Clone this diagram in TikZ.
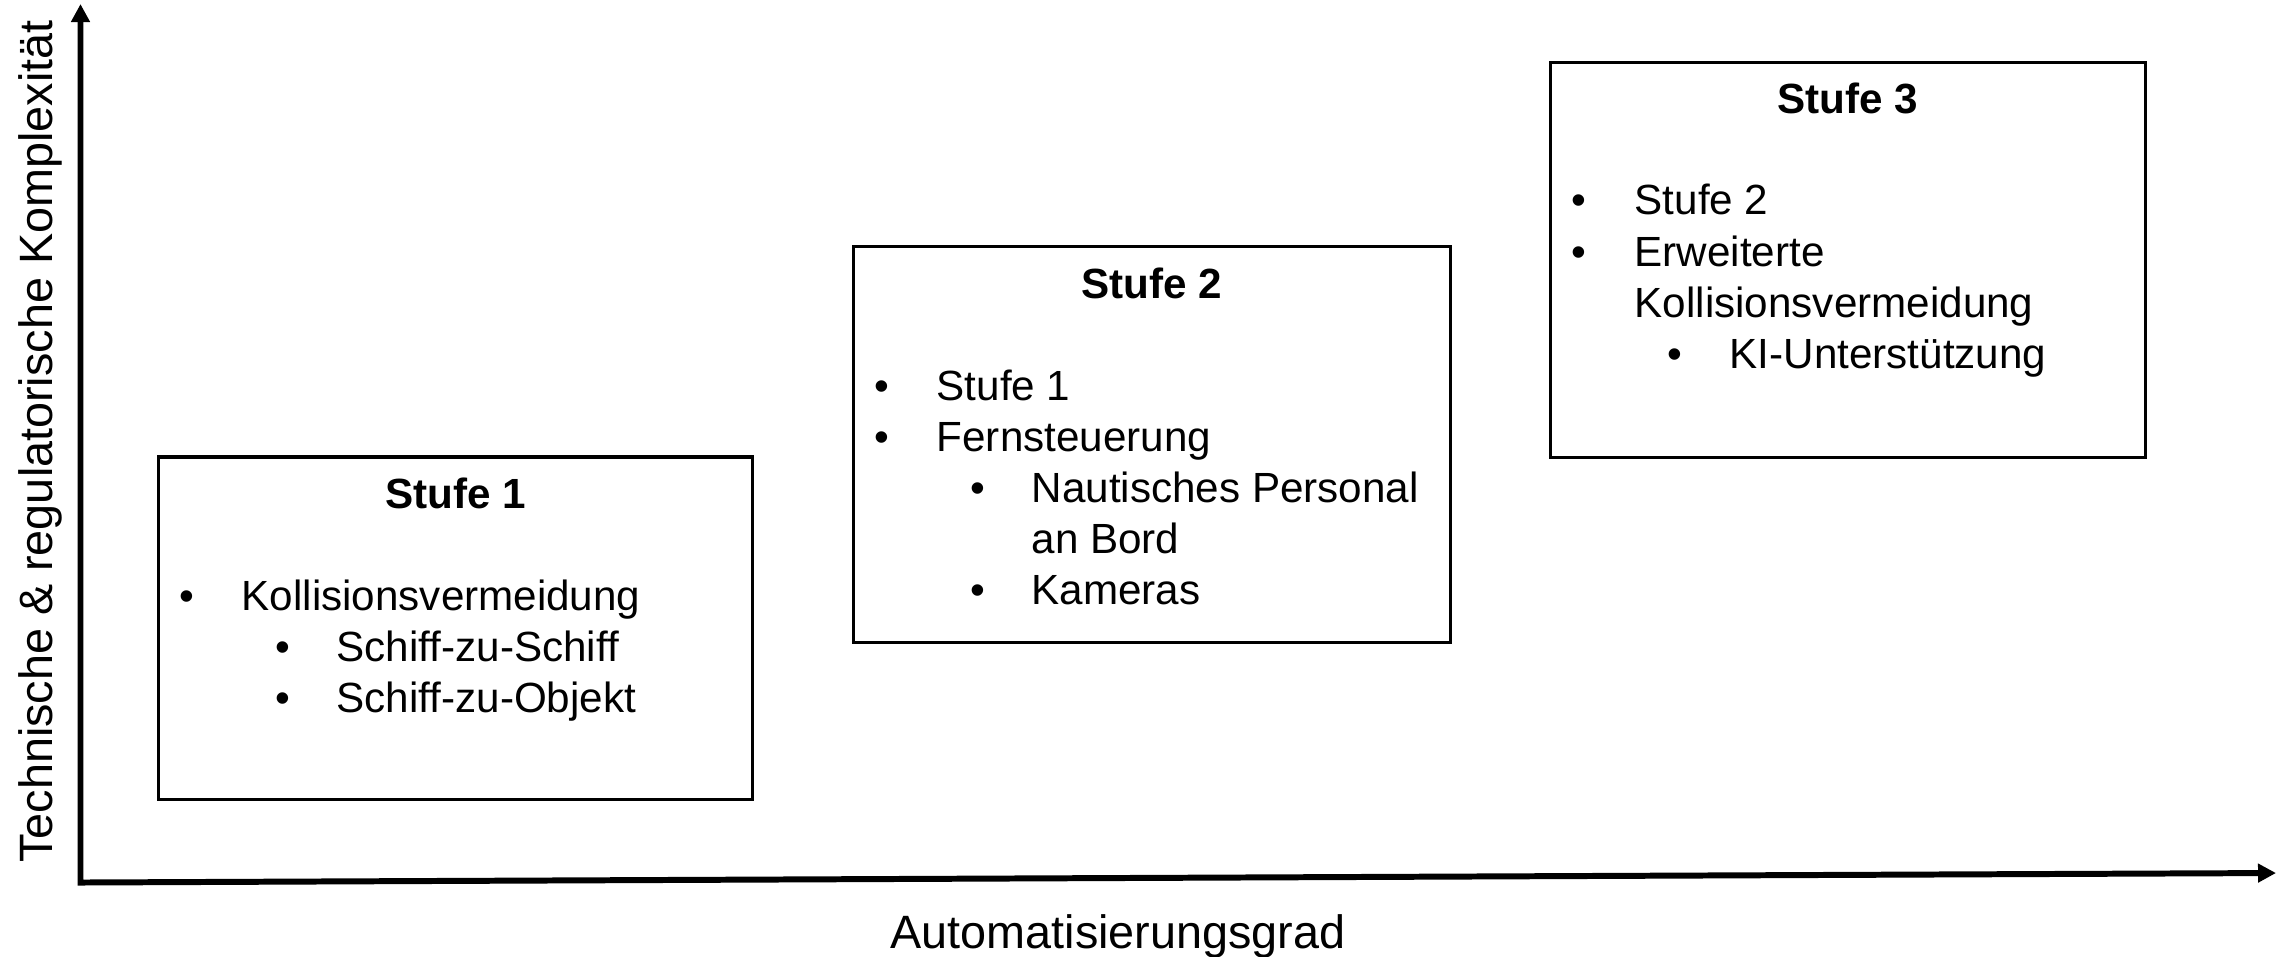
\documentclass[tikz,border=0pt]{standalone}
\usepackage{fontspec}
\setmainfont{Liberation Sans}
\usetikzlibrary{arrows.meta}
\begin{document}
\begin{tikzpicture}[x=0.01cm,y=-0.01cm,
  stage/.style={draw=black, line width=0.9pt, inner sep=0pt, fill=none},
  ttl/.style={font=\fontsize{12}{14}\selectfont\bfseries, inner sep=0pt, anchor=base},
  bul/.style={font=\fontsize{12}{14}\selectfont, inner sep=0pt, anchor=base},
  itm/.style={font=\fontsize{12}{14}\selectfont, inner sep=0pt, anchor=base west},
  axlbl/.style={font=\fontsize{13.3}{16}\selectfont, inner sep=0pt, anchor=base},
  axisline/.style={line width=1.7pt, {Triangle[length=0.18cm,width=0.18cm]}-{Triangle[length=0.18cm,width=0.18cm]}}
]
\useasboundingbox (0,0) rectangle (2282,956);

% axes
\coordinate (ytip) at (80.5,4);
\coordinate (orig) at (80.5,882.5);
\coordinate (xtip) at (2276,873);
\draw[axisline] (ytip) -- (orig) -- (xtip);
\node[axlbl] (xl) at (1118,948) {Automatisierungsgrad};
\node[axlbl, rotate=90] (yl) at (52,441.5) {Technische \& regulatorische Komplexität};

% Stufe 1
\node[stage, minimum width=5.93cm, minimum height=3.42cm] (s1) at (455.5,628) {};
\node[ttl] (s1t) at (455.5,508) {Stufe 1};
\node[bul] (s1b1) at (187,610) {•};
\node[itm] (s1i1) at (241,610) {Kollisionsvermeidung};
\node[bul] (s1b2) at (283,661) {•};
\node[itm] (s1i2) at (336,661) {Schiff-zu-Schiff};
\node[bul] (s1b3) at (283,712) {•};
\node[itm] (s1i3) at (336,712) {Schiff-zu-Objekt};

% Stufe 2
\node[stage, minimum width=5.96cm, minimum height=3.95cm] (s2) at (1152,444.5) {};
\node[ttl] (s2t) at (1152,298) {Stufe 2};
\node[bul] (s2b1) at (882,400) {•};
\node[itm] (s2i1) at (936,400) {Stufe 1};
\node[bul] (s2b2) at (882,451) {•};
\node[itm] (s2i2) at (936,451) {Fernsteuerung};
\node[bul] (s2b3) at (978,502) {•};
\node[itm] (s2i3) at (1031,502) {Nautisches Personal};
\node[itm] (s2i4) at (1031,553) {an Bord};
\node[bul] (s2b5) at (978,604) {•};
\node[itm] (s2i5) at (1031,604) {Kameras};

% Stufe 3
\node[stage, minimum width=5.94cm, minimum height=3.94cm] (s3) at (1848,260) {};
\node[ttl] (s3t) at (1848,113) {Stufe 3};
\node[bul] (s3b1) at (1579,214) {•};
\node[itm] (s3i1) at (1634,214) {Stufe 2};
\node[bul] (s3b2) at (1579,266) {•};
\node[itm] (s3i2) at (1634,266) {Erweiterte};
\node[itm] (s3i3) at (1634,317) {Kollisionsvermeidung};
\node[bul] (s3b4) at (1675,368) {•};
\node[itm] (s3i4) at (1729,368) {KI-Unterstützung};
\end{tikzpicture}
\end{document}
